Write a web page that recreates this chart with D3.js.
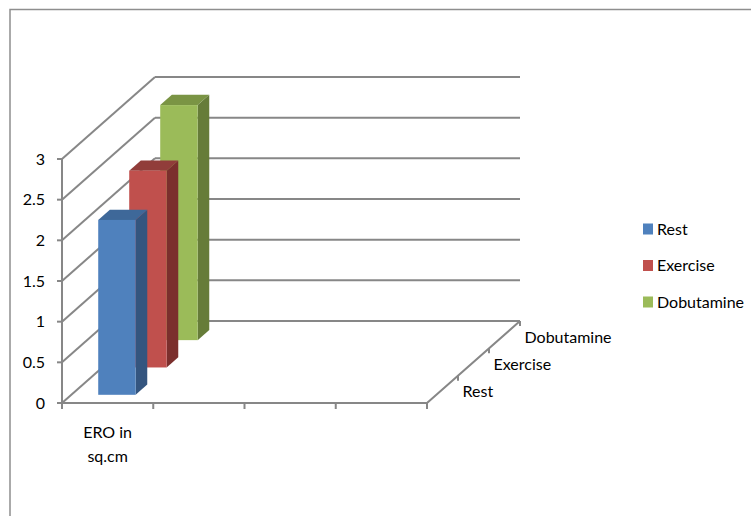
<!DOCTYPE html>
<html>
<head>
<meta charset="utf-8">
<script src="https://cdn.jsdelivr.net/npm/d3@7"></script>
<style>
  html, body { margin: 0; padding: 0; background: #fff; }
  svg text { font-family: Lato, "Open Sans", sans-serif; fill: #000; }
</style>
</head>
<body>
<svg id="chart" width="751" height="516"></svg>
<script>
// ERO area (sq.cm) under three conditions, drawn as a 3-D column chart
const categories = ["ERO in sq.cm", "", "", ""];
const seriesNames = ["Rest", "Exercise", "Dobutamine"];
const seriesValues = [2.15, 2.42, 2.89];
const yTickValues = [0, 0.5, 1, 1.5, 2, 2.5, 3];
const yTickLabels = ["0", "0.5", "1", "1.5", "2", "2.5", "3"];

const palette = {
  Rest:       { front: "#4F81BD", side: "#34557F", top: "#3E6899" },
  Exercise:   { front: "#C0504D", side: "#7B2F2D", top: "#913D3A" },
  Dobutamine: { front: "#9BBB59", side: "#667C39", top: "#7A9444" }
};

const svg = d3.select("#chart");
const gridColor = "#878787";

// front plane scales
const x = d3.scaleBand().domain(d3.range(categories.length)).range([62, 427]);
const y = d3.scaleLinear().domain([0, 3]).range([403, 159]);
// depth: 0 = front plane, 1 = back wall
const depthVec = [93, -82];
const z = d3.scaleBand().domain(seriesNames).range([0, 1]);

const proj = (px, v, d) => [px + d * depthVec[0], y(v) + d * depthVec[1]];
const line = d3.line();

// chart area border (top and left edges)
svg.append("path").attr("d", "M10,516V9.5H751")
  .attr("fill", "none").attr("stroke", "#8E8E8E").attr("stroke-width", 1.5);

const walls = svg.append("g").attr("fill", "none").attr("stroke", gridColor).attr("stroke-width", 2);
const x0 = x.range()[0], x1 = x.range()[1];

// back wall gridlines
yTickValues.forEach(v => {
  walls.append("path").attr("d", line([proj(x0, v, 1), proj(x1, v, 1)]));
});
// side wall gridlines
yTickValues.forEach(v => {
  walls.append("path").attr("d", line([proj(x0, v, 0), proj(x0, v, 1)]));
});
// floor front and right edges
walls.append("path").attr("d", line([proj(x0, 0, 0), proj(x1, 0, 0), proj(x1, 0, 1)]));
// vertical value axis
walls.append("path").attr("d", line([proj(x0, 0, 0), proj(x0, 3, 0)]));

// value axis ticks and labels
yTickValues.forEach((v, i) => {
  const p = proj(x0, v, 0);
  walls.append("path").attr("d", line([[p[0] - 5, p[1]], p]));
  svg.append("text").attr("x", 45).attr("y", p[1]).attr("dy", "0.36em")
    .attr("text-anchor", "end").attr("font-size", 16).text(yTickLabels[i]);
});

// category axis ticks
d3.range(categories.length + 1).forEach(i => {
  const px = x0 + i * x.step();
  const p = proj(px, 0, 0);
  walls.append("path").attr("d", line([p, [p[0], p[1] + 6]]));
});

// category label (wrapped over two lines)
categories.forEach((c, i) => {
  if (!c) return;
  const cx = x(i) + x.bandwidth() / 2;
  const parts = ["ERO in", "sq.cm"];
  parts.forEach((t, k) => {
    svg.append("text").attr("x", cx).attr("y", 438 + k * 24)
      .attr("text-anchor", "middle").attr("font-size", 16).text(t);
  });
});

// depth (series) axis ticks and labels
d3.range(seriesNames.length + 1).forEach(k => {
  const p = proj(x1, 0, k / seriesNames.length);
  walls.append("path").attr("d", line([p, [p[0], p[1] + 5]]));
});
seriesNames.forEach(s => {
  const p = proj(x1, 0, z(s) + z.bandwidth() / 2);
  svg.append("text").attr("x", p[0] + 20).attr("y", p[1] + 8)
    .attr("font-size", 16).text(s);
});

// columns, drawn back to front
const barWidth = x.bandwidth() * 0.41;
const bars = svg.append("g");
seriesNames.map((s, i) => ({ s, v: seriesValues[i] })).reverse().forEach(d => {
  const cx = x(0) + x.bandwidth() / 2;
  const xl = cx - barWidth / 2, xr = cx + barWidth / 2;
  const dF = z(d.s) + z.bandwidth() * 0.3;
  const dB = dF + z.bandwidth() * 0.375;
  const c = palette[d.s];
  const g = bars.append("g");
  // right side face
  g.append("path").attr("fill", c.side)
    .attr("d", line([proj(xr, 0, dF), proj(xr, 0, dB), proj(xr, d.v, dB), proj(xr, d.v, dF)]) + "Z");
  // top face
  g.append("path").attr("fill", c.top)
    .attr("d", line([proj(xl, d.v, dF), proj(xr, d.v, dF), proj(xr, d.v, dB), proj(xl, d.v, dB)]) + "Z");
  // front face
  const fl = proj(xl, d.v, dF), fr = proj(xr, 0, dF);
  g.append("rect").attr("fill", c.front)
    .attr("x", fl[0]).attr("y", fl[1])
    .attr("width", fr[0] - fl[0]).attr("height", fr[1] - fl[1]);
});

// legend
const legend = svg.append("g").attr("transform", "translate(643,229)");
seriesNames.forEach((s, i) => {
  const row = legend.append("g").attr("transform", `translate(0,${i * 36.5})`);
  row.append("rect").attr("x", 0).attr("y", -5.5).attr("width", 10).attr("height", 11)
    .attr("fill", palette[s].front);
  row.append("text").attr("x", 14).attr("y", 0).attr("dy", "0.36em")
    .attr("font-size", 16).text(s);
});
</script>
</body>
</html>
